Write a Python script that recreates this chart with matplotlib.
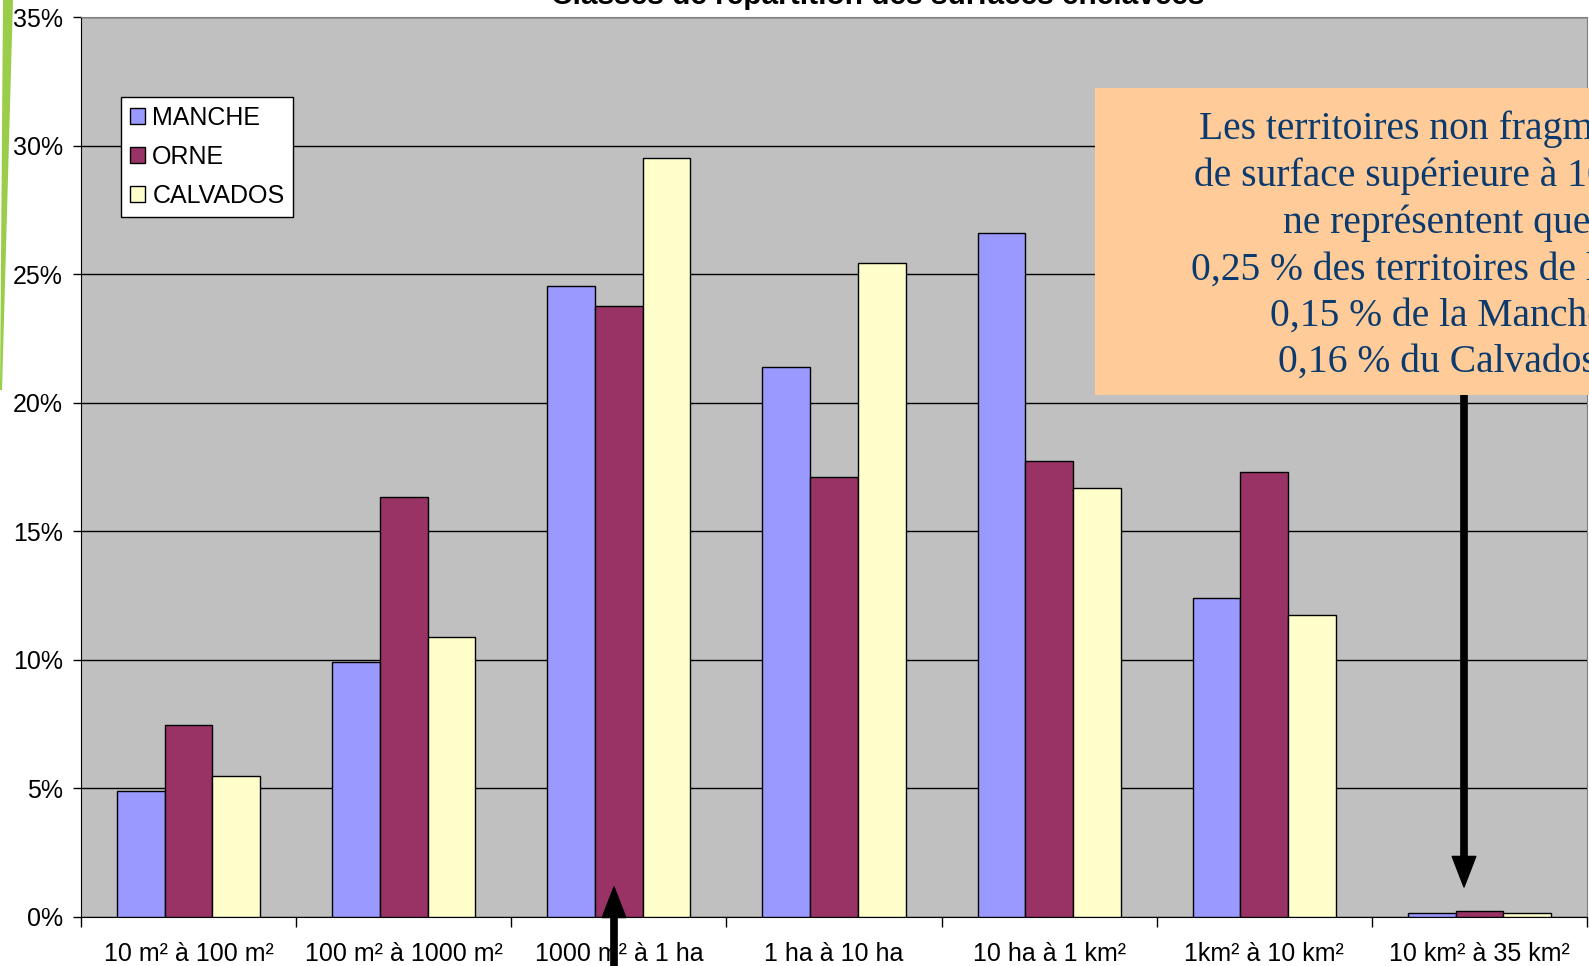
import matplotlib.pyplot as plt
import matplotlib.patches as mpatches
import numpy as np

# classes de surface et pourcentages par département
classes = ["10 m² à 100 m²", "100 m² à 1000 m²", "1000 m² à 1 ha", "1 ha à 10 ha",
           "10 ha à 1 km²", "1km² à 10 km²", "10 km² à 35 km²"]
manche = [4.9, 9.9, 24.55, 21.4, 26.6, 12.4, 0.15]
orne = [7.45, 16.35, 23.75, 17.1, 17.75, 17.3, 0.25]
calvados = [5.5, 10.9, 29.5, 25.45, 16.7, 11.75, 0.16]
series = [("MANCHE", manche, "#9999FF"), ("ORNE", orne, "#993366"), ("CALVADOS", calvados, "#FFFFCC")]

texte = ("Les territoires non fragmentés\nde surface supérieure à 10 km²\nne représentent que\n"
         "0,25 % des territoires de l'Orne\n0,15 % de la Manche\n0,16 % du Calvados")

W, H = 1589, 966
fig = plt.figure(figsize=(W / 100, H / 100), dpi=100)
fig.patch.set_facecolor("white")
ax = fig.add_axes([81 / W, 1 - 917 / H, (1587 - 81) / W, (917 - 17) / H])
ax.set_facecolor("#C0C0C0")

x = np.arange(len(classes))
w = 0.222
for i, (nom, vals, col) in enumerate(series):
    ax.bar(x + (i - 1) * w, vals, w, color=col, edgecolor="black", linewidth=1, label=nom, zorder=3)

ax.set_xlim(-0.5, len(classes) - 0.5)
ax.set_ylim(0, 35)
ax.set_yticks(range(0, 36, 5))
ax.set_yticklabels([f"{v}%" for v in range(0, 36, 5)])
ax.yaxis.grid(True, color="black", linewidth=1, zorder=1)
ax.set_axisbelow(True)
ax.set_xticks(x)
ax.set_xticklabels(classes)
ax.set_xticks(np.arange(-0.5, len(classes)), minor=True)
ax.tick_params(axis="x", which="major", length=0, pad=18, labelsize=18)
ax.tick_params(axis="x", which="minor", length=7, width=1, direction="out")
ax.tick_params(axis="y", length=6, width=1, pad=7, labelsize=18)
for s in ["top", "right"]:
    ax.spines[s].set_color("#808080")
for s in ["left", "bottom"]:
    ax.spines[s].set_color("black")

for lab in ax.get_xticklabels() + ax.get_yticklabels():
    lab.set_family(["Liberation Sans", "DejaVu Sans"])

leg = ax.legend(loc="upper left", bbox_to_anchor=(121 / W, 1 - 97 / H), bbox_transform=fig.transFigure,
                borderaxespad=0, fancybox=False, framealpha=1, edgecolor="black",
                prop={"family": "Liberation Sans", "size": 18}, handlelength=0.6, handleheight=0.6,
                handletextpad=0.3, labelspacing=0.6, borderpad=0.35)
leg.get_frame().set_linewidth(1)

# titre coupé en haut
fig.text(878 / W, 1 - 4 / H, "Classes de répartition des surfaces enclavées", ha="center", va="baseline",
         fontsize=21.5, fontweight="bold", family="Liberation Sans")

# encadré
fig.patches.append(mpatches.Rectangle((1095 / W, 1 - 395 / H), (W - 1095) / W, (395 - 88) / H,
                                      transform=fig.transFigure, facecolor="#FFCC99", edgecolor="none", zorder=5))
fig.text(1437 / W, 1 - 246 / H, texte, ha="center", va="center", fontsize=28.5, color="#0B3A6E",
         family="Liberation Serif", linespacing=1.33, zorder=6)

# flèches
ax.annotate("", xy=(1464, H - 887), xycoords="figure pixels", xytext=(1464, H - 395), textcoords="figure pixels",
            arrowprops=dict(width=4.5, headwidth=17, headlength=22, color="black", shrink=0), zorder=7)
ax.annotate("", xy=(614, H - 887), xycoords="figure pixels", xytext=(614, -5), textcoords="figure pixels",
            arrowprops=dict(width=4.5, headwidth=17, headlength=22, color="black", shrink=0),
            annotation_clip=False, zorder=7)

# trait vert décoratif
fig.patches.append(mpatches.Polygon([(3 / W, 1), (13 / W, 1), (2 / W, 1 - 390 / H), (0, 1 - 390 / H)],
                                    closed=True, transform=fig.transFigure, facecolor="#9ACD4A",
                                    edgecolor="none", zorder=0))

fig.savefig("out.png", dpi=100)
